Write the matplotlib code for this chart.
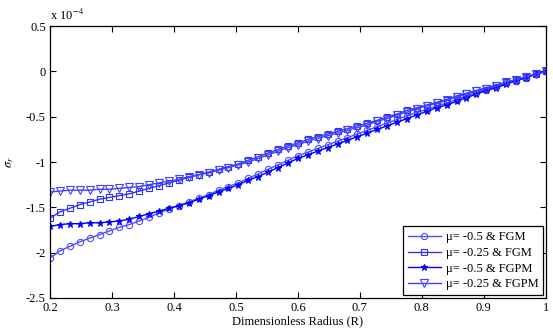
import numpy as np
import matplotlib
matplotlib.use("Agg")
import matplotlib.pyplot as plt

plt.rcParams['font.family'] = ['Liberation Serif', 'DejaVu Serif']
plt.rcParams['mathtext.fontset'] = 'stix'

# radius grid (51 nodes)
radius = np.linspace(0.2, 1.0, 51)

# radial stress, units of 1e-4
fgm_m050 = [-2.06, -1.98, -1.93, -1.88, -1.84, -1.80, -1.76, -1.72, -1.69, -1.65,
            -1.61, -1.56, -1.52, -1.48, -1.44, -1.40, -1.36, -1.31, -1.27, -1.23,
            -1.18, -1.13, -1.08, -1.03, -0.98, -0.93, -0.89, -0.85, -0.81, -0.77,
            -0.73, -0.69, -0.65, -0.61, -0.57, -0.53, -0.49, -0.45, -0.42, -0.38,
            -0.35, -0.31, -0.27, -0.24, -0.20, -0.17, -0.13, -0.10, -0.07, -0.03, 0.0]
fgm_m025 = [-1.62, -1.55, -1.51, -1.47, -1.44, -1.41, -1.39, -1.37, -1.35, -1.32,
            -1.29, -1.26, -1.23, -1.20, -1.17, -1.14, -1.11, -1.08, -1.05, -1.02,
            -0.98, -0.94, -0.90, -0.86, -0.82, -0.79, -0.75, -0.72, -0.69, -0.66,
            -0.63, -0.60, -0.57, -0.54, -0.50, -0.47, -0.43, -0.40, -0.37, -0.34,
            -0.31, -0.27, -0.24, -0.21, -0.18, -0.15, -0.12, -0.09, -0.06, -0.03, 0.0]
fgpm_m050 = [-1.71, -1.69, -1.68, -1.68, -1.67, -1.67, -1.66, -1.65, -1.63, -1.60,
             -1.57, -1.54, -1.51, -1.48, -1.45, -1.41, -1.37, -1.33, -1.29, -1.25,
             -1.20, -1.16, -1.11, -1.06, -1.01, -0.96, -0.92, -0.88, -0.84, -0.80,
             -0.76, -0.72, -0.68, -0.64, -0.60, -0.56, -0.52, -0.48, -0.44, -0.40,
             -0.37, -0.33, -0.29, -0.25, -0.21, -0.18, -0.14, -0.10, -0.07, -0.03, 0.0]
fgpm_m025 = [-1.33, -1.32, -1.31, -1.31, -1.31, -1.30, -1.30, -1.29, -1.28, -1.27,
             -1.25, -1.23, -1.21, -1.19, -1.16, -1.14, -1.12, -1.09, -1.06, -1.03,
             -1.00, -0.96, -0.92, -0.88, -0.84, -0.81, -0.77, -0.74, -0.71, -0.68,
             -0.65, -0.62, -0.59, -0.55, -0.52, -0.48, -0.45, -0.41, -0.38, -0.35,
             -0.32, -0.28, -0.25, -0.22, -0.19, -0.16, -0.12, -0.09, -0.06, -0.03, 0.0]

labels = ['\u03bc= -0.5 & FGM', '\u03bc= -0.25 & FGM',
          '\u03bc= -0.5 & FGPM', '\u03bc= -0.25 & FGPM']
x_ticks = [0.2, 0.3, 0.4, 0.5, 0.6, 0.7, 0.8, 0.9, 1]
y_ticks = [-2.5, -2, -1.5, -1, -0.5, 0, 0.5]

fig = plt.figure(figsize=(5.53, 3.31), dpi=100)
ax = fig.add_axes([0.0904, 0.0997, 0.8966, 0.8213])

ax.plot(radius, fgm_m050, color='#4d4dff', lw=1, marker='o', ms=4.5, mfc='none', mew=0.8, label=labels[0])
ax.plot(radius, fgm_m025, color='#3030ff', lw=1, marker='s', ms=4.5, mfc='none', mew=0.8, label=labels[1])
ax.plot(radius, fgpm_m050, color='#0000ff', lw=1, marker='*', ms=5, mew=0.8, label=labels[2])
ax.plot(radius, fgpm_m025, color='#4040ff', lw=1, marker='v', ms=5.5, mfc='none', mew=0.8, label=labels[3])

ax.set_xlim(0.2, 1)
ax.set_ylim(-2.5, 0.5)
ax.set_xticks(x_ticks)
ax.set_xticklabels(['0.2', '0.3', '0.4', '0.5', '0.6', '0.7', '0.8', '0.9', '1'])
ax.set_yticks(y_ticks)
ax.set_yticklabels(['-2.5', '-2', '-1.5', '-1', '-0.5', '0', '0.5'])
ax.tick_params(direction='in', top=True, right=True, labelsize=9, length=4, width=0.8, pad=3)
for s in ax.spines.values():
    s.set_linewidth(0.9)

ax.set_xlabel('Dimensionless Radius (R)', fontsize=9, labelpad=1)
ax.set_ylabel(r'$\sigma_r$', fontsize=9)
ax.yaxis.set_label_coords(-0.068, 0.5)
ax.text(0.0, 1.01, r'x 10$^{-4}$', transform=ax.transAxes, fontsize=9, va='bottom', ha='left')

leg = ax.legend(loc='lower right', fontsize=9, fancybox=False, framealpha=1,
                edgecolor='black', borderaxespad=0.2, handlelength=2.6,
                labelspacing=0.3, borderpad=0.4, handletextpad=0.4)
leg.get_frame().set_linewidth(0.9)

fig.savefig('out.png', dpi=100)
